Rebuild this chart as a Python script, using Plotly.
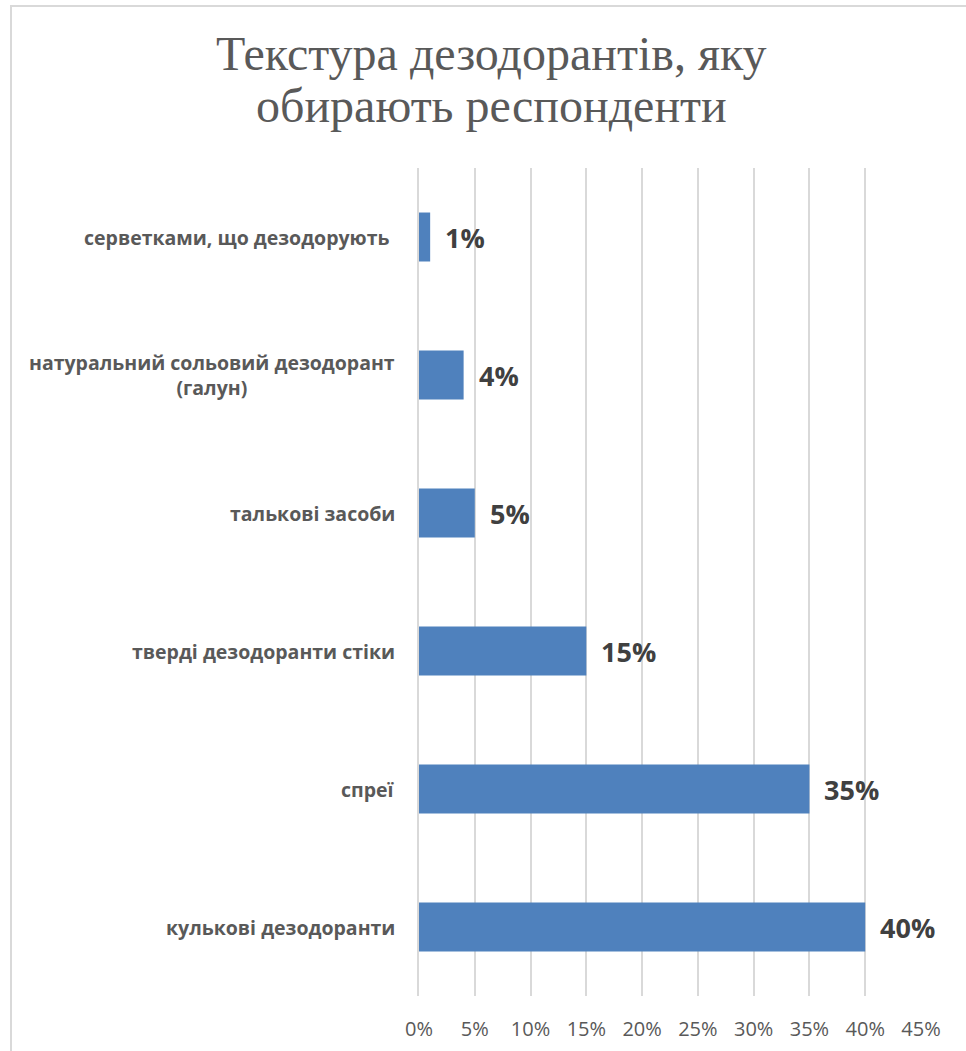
import plotly.graph_objects as go

categories = [
    "кулькові дезодоранти",
    "спреї",
    "тверді дезодоранти стіки",
    "талькові засоби",
    "натуральний сольовий дезодорант<br>(галун)",
    "серветками, що дезодорують ",
]
values = [0.40, 0.35, 0.15, 0.05, 0.04, 0.01]
value_labels = ["40%", "35%", "15%", "5%", "4%", "1%"]
tick_vals = [0, 0.05, 0.10, 0.15, 0.20, 0.25, 0.30, 0.35, 0.40, 0.45]
tick_text = ["0%", "5%", "10%", "15%", "20%", "25%", "30%", "35%", "40%", "45%"]
title_lines = ["Текстура дезодорантів, яку", "обирають респонденти"]

W, H = 966, 1051
ML, MR, MT, MB = 419, 45, 168, 55

fig = go.Figure()
fig.add_trace(go.Bar(
    x=values, y=categories, orientation="h",
    marker=dict(color="#4F81BD", line=dict(width=0)),
    width=0.355, hoverinfo="skip",
))

pw = W - ML - MR
ph = H - MT - MB

annotations = []
for c, v, t in zip(categories, values, value_labels):
    annotations.append(dict(
        x=v, y=c, xref="x", yref="y", text=t, showarrow=False,
        xanchor="left", yanchor="middle", xshift=13,
        font=dict(family="Open Sans", size=27, color="#404040", weight="bold"),
    ))
    annotations.append(dict(
        x=0, y=c, xref="paper", yref="y", text=c, showarrow=False,
        xanchor="right", yanchor="middle", xshift=-22, align="center",
        font=dict(family="Open Sans", size=19.5, color="#595959", weight="bold"),
    ))

# title lines (two annotations for tighter line spacing)
for line, cy in zip(title_lines, [53, 106]):
    annotations.append(dict(
        x=(491 - ML) / pw, y=(H - MB - cy) / ph, xref="paper", yref="paper",
        text=line, showarrow=False, xanchor="center", yanchor="middle",
        font=dict(family="Liberation Serif", size=48, color="#595959"),
    ))

shapes = [dict(
    type="rect", xref="paper", yref="paper",
    x0=(11 - ML) / pw, x1=(W + 20 - ML) / pw,
    y0=-(MB + 20) / ph, y1=(H - MB - 6) / ph,
    line=dict(color="#D9D9D9", width=2), fillcolor="rgba(0,0,0,0)", layer="below",
)]

fig.update_layout(
    width=W, height=H,
    margin=dict(l=ML, r=MR, t=MT, b=MB),
    paper_bgcolor="white", plot_bgcolor="white",
    showlegend=False,
    xaxis=dict(
        range=[0, 0.45], tickvals=tick_vals, ticktext=tick_text,
        showgrid=True, gridcolor="#D9D9D9", gridwidth=1.5,
        zeroline=False, showline=False, ticks="",
        ticklabelstandoff=19, automargin=False,
        tickfont=dict(family="Open Sans", size=20, color="#595959"),
        fixedrange=True,
    ),
    yaxis=dict(
        categoryorder="array", categoryarray=categories,
        range=[-0.5, 5.5], showticklabels=False, showgrid=False,
        zeroline=False, showline=True, linecolor="#D9D9D9", linewidth=1.5,
        ticks="", fixedrange=True, automargin=False,
    ),
    annotations=annotations,
    shapes=shapes,
)

fig.write_html("out.html", config={"displayModeBar": False},
               post_script="document.body.style.margin='0';")
